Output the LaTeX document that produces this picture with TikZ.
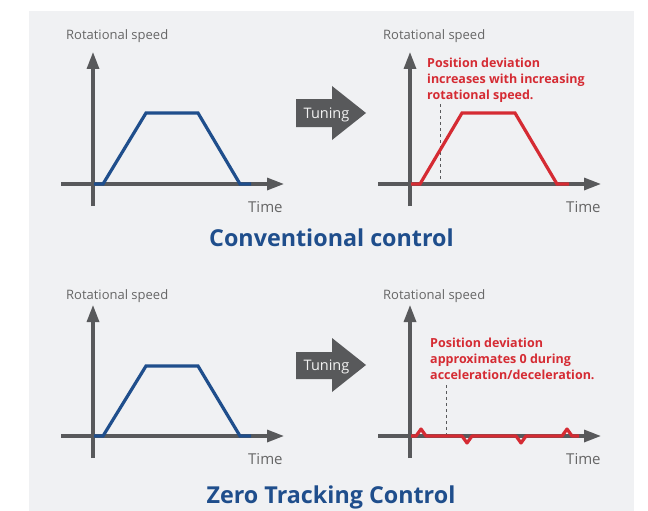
\documentclass[tikz,border=0pt]{standalone}
\usepackage{fontspec}
\setmainfont{Open Sans}
\usetikzlibrary{arrows.meta,positioning}
\definecolor{panel}{HTML}{F0F1F3}
\definecolor{axgray}{HTML}{58595B}
\definecolor{lblgray}{HTML}{666666}
\definecolor{tuneTxt}{HTML}{F2F2F2}
\definecolor{ttlBlue}{HTML}{1F4E8C}
\definecolor{noteRed}{HTML}{D52B33}
\begin{document}
\begin{tikzpicture}[x=1pt,y=-1pt,
	axis/.style={draw=axgray,line width=3.2pt,-{Triangle[length=17pt,width=12pt]}},
	lbl/.style={text=lblgray,font=\fontsize{13}{15}\selectfont,inner sep=0pt,anchor=base west},
	tlbl/.style={text=lblgray,font=\fontsize{15}{17}\selectfont,inner sep=0pt,anchor=base west},
	note/.style={text=noteRed,font=\bfseries\fontsize{12.5}{16}\selectfont,align=left,inner sep=0pt,anchor=north west},
	ttl/.style={text=ttlBlue,font=\bfseries\fontsize{23.3}{27}\selectfont,inner sep=0pt,anchor=base},
	tune/.style={text=tuneTxt,font=\fontsize{14.5}{17}\selectfont,inner sep=0pt,anchor=base},
	speed/.style={line width=3.2pt,line join=miter},
	dev/.style={draw=axgray,line width=1pt,dash pattern=on 3pt off 3pt}]
	\useasboundingbox (0,0) rectangle (648,511);
	\fill[panel] (29,11) rectangle (634,511);
	% conventional control
	\coordinate (yb1) at (93,206); \coordinate (yt1) at (93,52);
	\coordinate (xl1) at (61,184); \coordinate (xr1) at (284,184);
	\draw[axis] (yb1) -- (yt1);
	\draw[axis] (xl1) -- (xr1);
	\draw[speed,ttlBlue] (94,184) -- (103,184) -- (146,113) -- (198,113) -- (240,184) -- (251,184);
	\node[lbl] (rs1) at (66,40) {Rotational speed};
	\node[tlbl] (tm1) at (248,212) {Time};
	\fill[axgray] (296,99) -- (332,99) -- (332,86) -- (366,113) -- (332,140) -- (332,127) -- (296,127) -- cycle;
	\node[tune] (tn1) at (326.5,118) {Tuning};
	\coordinate (yb2) at (410,206); \coordinate (yt2) at (410,52);
	\coordinate (xl2) at (378,184); \coordinate (xr2) at (601,184);
	\draw[axis] (yb2) -- (yt2);
	\draw[axis] (xl2) -- (xr2);
	\coordinate (dv1) at (440,104); \coordinate (dv1b) at (440,184);
	\draw[dev] (dv1) -- (dv1b);
	\draw[speed,noteRed] (411,184) -- (420,184) -- (462,113) -- (515,113) -- (557,184) -- (569,184);
	\node[lbl] (rs2) at (383,40) {Rotational speed};
	\node[tlbl] (tm2) at (566,212) {Time};
	\node[note] (nt1) at (427,57.5) {Position deviation\\increases with increasing\\rotational speed.};
	\node[ttl] (ttl1) at (331.5,246) {Conventional control};
	% zero tracking control
	\coordinate (yb3) at (93,458); \coordinate (yt3) at (93,305);
	\coordinate (xl3) at (61,436); \coordinate (xr3) at (284,436);
	\draw[axis] (yb3) -- (yt3);
	\draw[axis] (xl3) -- (xr3);
	\draw[speed,ttlBlue] (94,436) -- (103,436) -- (146,366) -- (198,366) -- (240,436) -- (251,436);
	\node[lbl] (rs3) at (66,299) {Rotational speed};
	\node[tlbl] (tm3) at (248,464) {Time};
	\fill[axgray] (296,352) -- (332,352) -- (332,338) -- (366,365) -- (332,392) -- (332,379) -- (296,379) -- cycle;
	\node[tune] (tn2) at (326.5,370) {Tuning};
	\coordinate (yb4) at (410,458); \coordinate (yt4) at (410,305);
	\coordinate (xl4) at (378,436); \coordinate (xr4) at (601,436);
	\draw[axis] (yb4) -- (yt4);
	\draw[axis] (xl4) -- (xr4);
	\coordinate (dv2) at (446,385); \coordinate (dv2b) at (446,436);
	\draw[dev] (dv2) -- (dv2b);
	\draw[speed,noteRed,line join=round] (411,436) -- (416,436) -- (421,429) -- (426,436) -- (462,436) -- (467,443) -- (472,436)
		-- (516,436) -- (521,443) -- (526,436) -- (562,436) -- (567,429) -- (572,436) -- (579,436);
	\node[lbl] (rs4) at (383,299) {Rotational speed};
	\node[tlbl] (tm4) at (566,464) {Time};
	\node[note] (nt2) at (430,337.5) {Position deviation\\approximates 0 during\\acceleration/deceleration.};
	\node[ttl] (ttl2) at (331,503) {Zero Tracking Control};
\end{tikzpicture}
\end{document}
